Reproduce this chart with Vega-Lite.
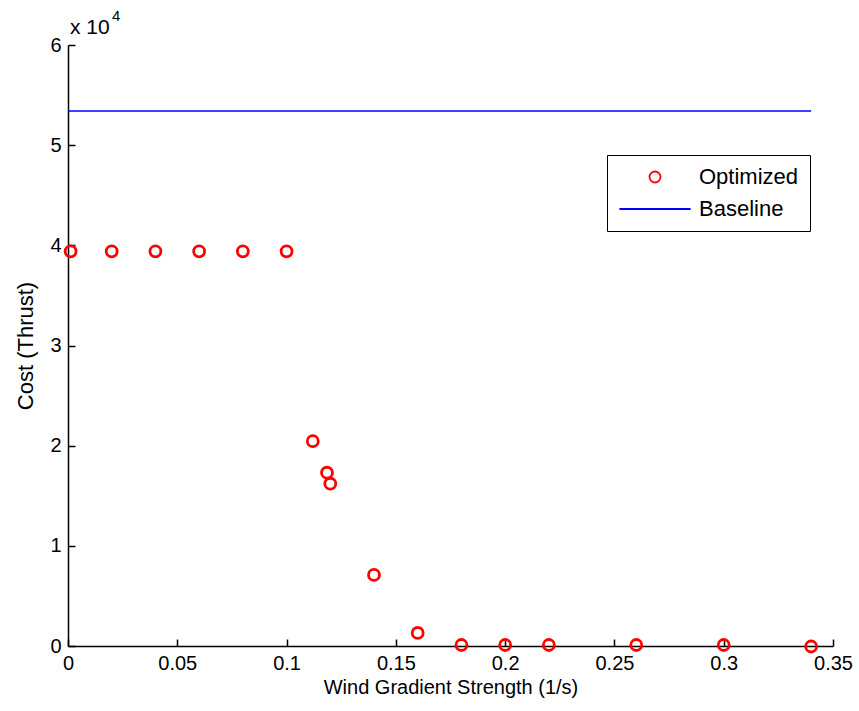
{
  "$schema": "https://vega.github.io/schema/vega-lite/v6.json",
  "autosize": "none",
  "width": 765,
  "height": 601,
  "padding": {"left": 68, "top": 45, "right": 26, "bottom": 65},
  "background": "white",
  "config": {
    "font": "Liberation Sans",
    "view": {"stroke": null},
    "axis": {
      "grid": false,
      "domainColor": "black",
      "domainWidth": 1.5,
      "tickColor": "black",
      "tickWidth": 1.5,
      "tickSize": -7,
      "labelFlush": false,
      "labelOverlap": false,
      "labelFont": "Liberation Sans",
      "labelFontSize": 20,
      "labelColor": "black",
      "titleFont": "Liberation Sans",
      "titleFontSize": 20,
      "titleFontWeight": "normal",
      "titleColor": "black"
    }
  },
  "datasets": {
    "optimized": [
      {"strength": 0.0012, "cost": 39400, "series": "Optimized"},
      {"strength": 0.02, "cost": 39400, "series": "Optimized"},
      {"strength": 0.04, "cost": 39400, "series": "Optimized"},
      {"strength": 0.06, "cost": 39400, "series": "Optimized"},
      {"strength": 0.08, "cost": 39400, "series": "Optimized"},
      {"strength": 0.1, "cost": 39400, "series": "Optimized"},
      {"strength": 0.112, "cost": 20450, "series": "Optimized"},
      {"strength": 0.1185, "cost": 17300, "series": "Optimized"},
      {"strength": 0.12, "cost": 16200, "series": "Optimized"},
      {"strength": 0.14, "cost": 7100, "series": "Optimized"},
      {"strength": 0.16, "cost": 1300, "series": "Optimized"},
      {"strength": 0.18, "cost": 100, "series": "Optimized"},
      {"strength": 0.2, "cost": 100, "series": "Optimized"},
      {"strength": 0.22, "cost": 100, "series": "Optimized"},
      {"strength": 0.26, "cost": 100, "series": "Optimized"},
      {"strength": 0.3, "cost": 100, "series": "Optimized"},
      {"strength": 0.34, "cost": -50, "series": "Optimized"}
    ],
    "baseline": [
      {"strength": 0, "strength_end": 0.34, "cost": 53400, "series": "Baseline"}
    ],
    "exponent": [
      {"strength": 0, "cost": 60000, "base": "x 10", "power": "4"}
    ]
  },
  "layer": [
    {
      "data": {"name": "baseline"},
      "mark": {"type": "rule", "strokeWidth": 1.5},
      "encoding": {
        "x": {"field": "strength", "type": "quantitative"},
        "x2": {"field": "strength_end"},
        "y": {"field": "cost", "type": "quantitative"},
        "color": {"field": "series", "type": "nominal"}
      }
    },
    {
      "data": {"name": "optimized"},
      "mark": {"type": "point", "filled": false, "strokeWidth": 2.8, "size": 120, "opacity": 1},
      "encoding": {
        "x": {
          "field": "strength",
          "type": "quantitative",
          "scale": {"domain": [0, 0.35], "nice": false, "zero": false},
          "axis": {
            "title": "Wind Gradient Strength (1/s)",
            "values": [0, 0.05, 0.1, 0.15, 0.2, 0.25, 0.3, 0.35],
            "labelExpr": "format(datum.value, '~g')",
            "labelPadding": 14,
            "titlePadding": 4
          }
        },
        "y": {
          "field": "cost",
          "type": "quantitative",
          "scale": {"domain": [0, 60000], "nice": false, "zero": false},
          "axis": {
            "title": "Cost (Thrust)",
            "titleFontSize": 22,
            "values": [0, 10000, 20000, 30000, 40000, 50000, 60000],
            "labelExpr": "format(datum.value / 10000, 'd')",
            "labelPadding": 14,
            "titlePadding": 12
          }
        },
        "color": {
          "field": "series",
          "type": "nominal",
          "scale": {"domain": ["Optimized", "Baseline"], "range": ["#FF0000", "#0000FF"]},
          "legend": {
            "title": null,
            "orient": "none",
            "legendX": 539,
            "legendY": 110,
            "strokeColor": "black",
            "fillColor": "white",
            "padding": 11,
            "symbolOffset": 26,
            "labelOffset": 33,
            "rowPadding": 10,
            "labelFontSize": 22,
            "labelFont": "Liberation Sans",
            "labelColor": "black",
            "symbolSize": 120,
            "symbolStrokeWidth": 1.8
          }
        },
        "shape": {
          "field": "series",
          "type": "nominal",
          "scale": {"domain": ["Optimized", "Baseline"], "range": ["circle", "M-6.5,0H6.5"]},
          "legend": {
            "title": null,
            "orient": "none",
            "legendX": 539,
            "legendY": 110
          }
        }
      }
    },
    {
      "data": {"name": "exponent"},
      "mark": {"type": "text", "align": "left", "baseline": "alphabetic", "dx": 2, "dy": -11, "fontSize": 21, "font": "Liberation Sans", "color": "black"},
      "encoding": {
        "x": {"field": "strength", "type": "quantitative"},
        "y": {"field": "cost", "type": "quantitative"},
        "text": {"field": "base"}
      }
    },
    {
      "data": {"name": "exponent"},
      "mark": {"type": "text", "align": "left", "baseline": "alphabetic", "dx": 44, "dy": -24, "fontSize": 15, "font": "Liberation Sans", "color": "black"},
      "encoding": {
        "x": {"field": "strength", "type": "quantitative"},
        "y": {"field": "cost", "type": "quantitative"},
        "text": {"field": "power"}
      }
    }
  ]
}
